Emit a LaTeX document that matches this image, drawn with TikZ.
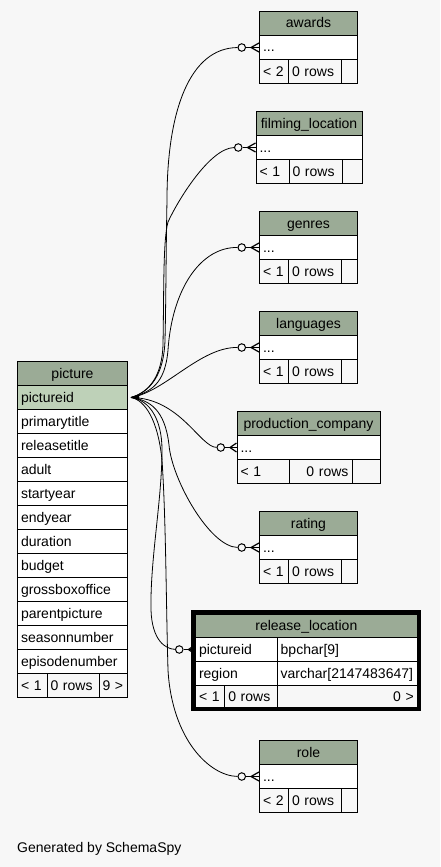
\documentclass[tikz,border=0pt]{standalone}
\usepackage{fontspec}
\setmainfont{Liberation Sans}
\usetikzlibrary{positioning}

\definecolor{paper}{HTML}{F7F7F7}
\definecolor{headgreen}{HTML}{9BAB96}
\definecolor{keygreen}{HTML}{BED1B8}

\tikzset{
  cell/.style={draw, line width=1pt, anchor=north west, inner xsep=3.5pt, inner ysep=0pt,
    minimum height=24pt, text height=11pt, text depth=2pt, align=left},
  headcell/.style={cell, fill=headgreen, align=center},
  keycell/.style={cell, fill=keygreen},
  rowcell/.style={cell, fill=white},
  footcell/.style={cell, fill=paper},
  link/.style={line width=0.8pt},
  odot/.style={circle, draw, line width=1pt, fill=paper, minimum size=7.5pt, inner sep=0pt},
  crow/.style={line width=1.2pt},
}

\newcommand{\crowfoot}[2]{%
  \draw[crow] (#1.east) -- ++(5,0) coordinate (#1-v);
  \draw[crow] (#1-v) -- ([yshift=4.5pt]#2.west);
  \draw[crow] (#1-v) -- (#2.west);
  \draw[crow] (#1-v) -- ([yshift=-4.5pt]#2.west);
}

\begin{document}
\begin{tikzpicture}[x=1pt, y=-1pt, font=\fontsize{14pt}{16pt}\selectfont]
    \fill[paper] (0,0) rectangle (440,867);
    \useasboundingbox (0,0) rectangle (440,867);

    % picture
    \node[headcell, text width=103pt] (picture) at (17,361) {picture};
    \node[keycell, text width=103pt] (picture-id) at (17,385) {pictureid};
    \node[rowcell, text width=103pt] (picture-primarytitle) at (17,409) {primarytitle};
    \node[rowcell, text width=103pt] (picture-releasetitle) at (17,433) {releasetitle};
    \node[rowcell, text width=103pt] (picture-adult) at (17,457) {adult};
    \node[rowcell, text width=103pt] (picture-startyear) at (17,481) {startyear};
    \node[rowcell, text width=103pt] (picture-endyear) at (17,505) {endyear};
    \node[rowcell, text width=103pt] (picture-duration) at (17,529) {duration};
    \node[rowcell, text width=103pt] (picture-budget) at (17,553) {budget};
    \node[rowcell, text width=103pt] (picture-gross) at (17,577) {grossboxoffice};
    \node[rowcell, text width=103pt] (picture-parent) at (17,601) {parentpicture};
    \node[rowcell, text width=103pt] (picture-season) at (17,625) {seasonnumber};
    \node[rowcell, text width=103pt] (picture-episode) at (17,649) {episodenumber};
    \node[footcell, text width=22.5pt] (picture-f1) at (17,673) {< 1};
    \node[footcell, text width=45pt] (picture-f2) at (46.5,673) {0 rows};
    \node[footcell, text width=21.5pt] (picture-f3) at (98.5,673) {9 >};

    % awards
    \node[headcell, text width=91pt] (awards) at (259,11) {awards};
    \node[rowcell, text width=91pt] (awards-row) at (259,35) {...};
    \node[footcell, text width=22pt] (awards-f1) at (259,59) {< 2};
    \node[footcell, text width=45.5pt] (awards-f2) at (288,59) {0 rows};
    \node[footcell, text width=9.5pt] (awards-f3) at (340.5,59) {};

    % filming_location
    \node[headcell, text width=99pt] (filming) at (255.5,111) {filming\_location};
    \node[rowcell, text width=99pt] (filming-row) at (255.5,135) {...};
    \node[footcell, text width=26pt] (filming-f1) at (255.5,159) {< 1};
    \node[footcell, text width=46pt] (filming-f2) at (288.5,159) {0 rows};
    \node[footcell, text width=13pt] (filming-f3) at (341.5,159) {};

    % genres
    \node[headcell, text width=91pt] (genres) at (259,211) {genres};
    \node[rowcell, text width=91pt] (genres-row) at (259,235) {...};
    \node[footcell, text width=22pt] (genres-f1) at (259,259) {< 1};
    \node[footcell, text width=45.5pt] (genres-f2) at (288,259) {0 rows};
    \node[footcell, text width=9.5pt] (genres-f3) at (340.5,259) {};

    % languages
    \node[headcell, text width=91pt] (languages) at (259,311) {languages};
    \node[rowcell, text width=91pt] (languages-row) at (259,335) {...};
    \node[footcell, text width=22pt] (languages-f1) at (259,359) {< 1};
    \node[footcell, text width=45.5pt] (languages-f2) at (288,359) {0 rows};
    \node[footcell, text width=9.5pt] (languages-f3) at (340.5,359) {};

    % production_company
    \node[headcell, text width=136pt] (company) at (236.5,411) {production\_company};
    \node[rowcell, text width=136pt] (company-row) at (236.5,435) {...};
    \node[footcell, text width=45pt] (company-f1) at (236.5,459) {< 1};
    \node[footcell, text width=56pt, align=right] (company-f2) at (288.5,459) {0 rows};
    \node[footcell, text width=21pt] (company-f3) at (351.5,459) {};

    % rating
    \node[headcell, text width=91pt] (rating) at (259,511) {rating};
    \node[rowcell, text width=91pt] (rating-row) at (259,535) {...};
    \node[footcell, text width=22pt] (rating-f1) at (259,559) {< 1};
    \node[footcell, text width=45.5pt] (rating-f2) at (288,559) {0 rows};
    \node[footcell, text width=9.5pt] (rating-f3) at (340.5,559) {};

    % release_location
    \node[headcell, text width=214.7pt, minimum height=23pt] (release) at (195,614) {release\_location};
    \node[rowcell, text width=74.7pt] (release-id) at (195,637) {pictureid};
    \node[rowcell, text width=133pt] (release-idtype) at (276.7,637) {bpchar[9]};
    \node[rowcell, text width=74.7pt] (release-region) at (195,661) {region};
    \node[rowcell, text width=133pt] (release-regiontype) at (276.7,661) {varchar[2147483647]};
    \node[footcell, text width=22.3pt, minimum height=22pt] (release-f1) at (195,685) {< 1};
    \node[footcell, text width=45.4pt, minimum height=22pt] (release-f2) at (224.3,685) {0 rows};
    \node[footcell, text width=133pt, minimum height=22pt, align=right] (release-f3) at (276.7,685) {0 >};
    \draw[line width=4pt] (193,612) rectangle (418.7,709);

    % role
    \node[headcell, text width=91pt] (role) at (259,740) {role};
    \node[rowcell, text width=91pt] (role-row) at (259,764) {...};
    \node[footcell, text width=22pt] (role-f1) at (259,788) {< 2};
    \node[footcell, text width=45.5pt] (role-f2) at (288,788) {0 rows};
    \node[footcell, text width=9.5pt] (role-f3) at (340.5,788) {};

    % optional-many ends
    \node[odot, left=13pt of awards-row] (awards-o) {};
    \node[odot, left=13pt of filming-row] (filming-o) {};
    \node[odot, left=13pt of genres-row] (genres-o) {};
    \node[odot, left=13pt of languages-row] (languages-o) {};
    \node[odot, left=11.5pt of company-row] (company-o) {};
    \node[odot, left=13pt of rating-row] (rating-o) {};
    \node[odot, left=11.5pt of release-id] (release-o) {};
    \node[odot, left=13pt of role-row] (role-o) {};
    \crowfoot{awards-o}{awards-row}
    \crowfoot{filming-o}{filming-row}
    \crowfoot{genres-o}{genres-row}
    \crowfoot{languages-o}{languages-row}
    \crowfoot{company-o}{company-row}
    \crowfoot{rating-o}{rating-row}
    \crowfoot{release-o}{release-id}
    \crowfoot{role-o}{role-row}

    % links from picture.pictureid
    \coordinate (pic-port) at ([xshift=3pt]picture-id.east);
    \draw[link] (pic-port) .. controls (150,392) and (164,375) .. (165,340)
        .. controls (166,300) and (166,250) .. (167,200)
        .. controls (167,110) and (190,48) .. (awards-o);
    \draw[link] (pic-port) .. controls (150,392) and (162,375) .. (163,345)
        .. controls (164,290) and (163,240) .. (168,222)
        .. controls (178,200) and (210,148) .. (filming-o);
    \draw[link] (pic-port) .. controls (150,392) and (165,385) .. (168,350)
        .. controls (172,290) and (200,247) .. (genres-o);
    \draw[link] (pic-port) .. controls (165,392) and (200,347) .. (languages-o);
    \draw[link] (pic-port) .. controls (180,398) and (200,447) .. (company-o);
    \draw[link] (pic-port) .. controls (150,400) and (165,410) .. (169,445)
        .. controls (172,480) and (210,547) .. (rating-o);
    \draw[link] (pic-port) .. controls (150,400) and (162,420) .. (162,450)
        .. controls (162,500) and (150,560) .. (151,610)
        .. controls (152,640) and (165,649) .. (release-o);
    \draw[link] (pic-port) .. controls (145,400) and (158,420) .. (162,460)
        .. controls (166,520) and (166,600) .. (168,670)
        .. controls (172,740) and (210,776) .. (role-o);
    \fill (pic-port) -- ++(8,-2.5) -- ++(0,5) -- cycle;

    \node[anchor=base west, inner sep=0pt] (footer) at (17,852) {Generated by SchemaSpy};
\end{tikzpicture}
\end{document}
